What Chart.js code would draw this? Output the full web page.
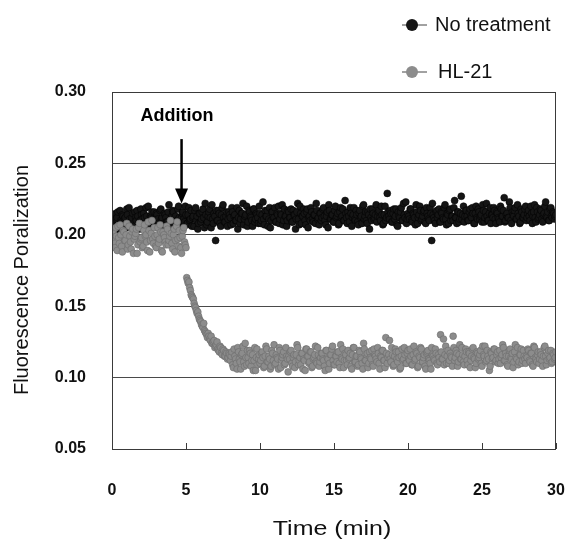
<!DOCTYPE html>
<html>
<head>
<meta charset="utf-8">
<script src="https://cdn.jsdelivr.net/npm/chart.js@4.4.1/dist/chart.umd.min.js"></script>
<style>
  body { margin: 0; background: #fff; }
</style>
</head>
<body>
<canvas id="fpChart" width="566" height="541"></canvas>
<script>
// two interleaved readings every 0.1 min (run A at t, run B at t + 0.05), values in mP
var timeStep = 0.1;
var runBOffset = 0.05;
var additionTime = 4.7;

var noTreatmentA = [
  208,213,205,211,216,204,210,214,207,212,218,206,211,209,215,203,212,217,208,210,
  214,206,212,219,209,204,213,216,210,207,215,211,205,218,212,208,214,209,216,206,
  211,217,207,213,210,220,205,212,216,209,214,208,219,211,206,213,217,210,204,215,
  209,216,212,222,207,213,218,205,211,215,196,210,217,208,214,221,209,213,206,216,
  212,219,208,214,210,204,217,211,215,207,213,220,209,216,212,206,218,211,214,208,
  215,210,223,207,213,217,211,205,216,212,219,209,214,208,215,221,210,213,206,217,
  212,218,209,214,204,216,211,220,208,213,215,207,218,212,210,216,209,214,222,211,
  207,215,212,219,210,213,205,217,211,214,209,220,213,207,216,212,218,210,215,208,
  213,219,206,214,211,217,209,215,212,208,221,213,210,216,204,212,218,211,214,209,
  216,212,220,207,214,210,229,213,217,209,215,211,218,206,213,216,210,222,212,208,
  215,211,218,209,214,207,216,212,220,210,213,217,208,215,211,219,196,214,210,216,
  212,218,209,215,211,221,207,214,217,210,213,219,212,208,216,211,227,214,209,217,
  213,210,218,212,215,208,220,211,216,213,209,217,212,222,210,215,208,214,219,211,
  216,212,209,218,213,226,210,215,212,219,208,214,217,211,221,213,209,216,212,218,
  210,215,213,220,208,216,212,219,211,214,217,209,215,223,212,210,218,213,216,211,
  214
];

var noTreatmentB = [
  210,206,215,212,203,217,209,213,211,205,214,219,208,212,206,216,210,213,204,218,
  211,215,207,213,220,209,212,205,216,210,214,208,217,211,203,215,212,209,221,207,
  213,216,210,205,218,212,209,215,211,220,207,214,210,217,212,206,219,213,208,215,
  211,218,205,214,209,216,212,221,208,213,217,210,215,206,219,212,209,216,211,214,
  207,216,213,210,219,212,208,215,222,211,214,206,217,213,210,218,209,215,212,220,
  208,214,211,217,213,206,219,210,216,212,209,215,220,211,214,207,218,213,210,216,
  212,209,217,214,211,222,207,215,213,218,210,216,205,213,219,211,214,208,217,212,
  215,210,218,213,207,216,221,211,214,209,217,212,215,208,219,213,210,224,212,216,
  209,215,212,219,210,214,207,217,213,220,211,216,208,214,218,210,215,212,221,213,
  217,210,214,208,220,212,216,211,215,209,218,213,207,216,212,219,210,214,223,211,
  213,218,210,215,212,221,208,214,217,211,216,209,219,213,210,215,222,212,208,217,
  214,209,216,212,219,211,215,208,218,213,210,224,212,216,209,215,211,220,213,217,
  210,216,213,219,208,215,212,218,211,214,221,209,216,213,210,219,214,212,217,208,
  215,211,220,213,217,209,214,212,223,210,216,213,219,211,215,208,218,212,214,220,
  212,217,210,215,213,221,209,216,212,218,211,214,220,213,216,210,219,212,215,213
];

var hl21A = [
  197,203,191,199,206,194,200,188,202,196,208,193,199,190,204,197,201,187,205,195,
  198,192,207,200,189,203,196,210,194,199,191,205,197,202,188,200,195,206,193,199,
  201,190,204,196,209,192,198,187,203,195,
  191,168,167,161,157,155,150,147,146,141,139,136,138,132,130,131,127,129,124,126,
  122,125,119,122,117,120,115,118,113,117,
  112,118,107,115,110,121,113,106,117,111,124,109,114,119,108,116,112,105,120,113,
  110,117,114,108,122,111,115,106,119,112,109,116,113,121,107,114,118,110,115,104,
  113,119,108,116,111,123,109,114,117,106,112,120,115,110,118,107,113,116,111,121,
  108,114,117,112,105,119,113,110,116,122,109,115,111,118,107,114,120,112,116,109,
  113,117,106,121,111,115,108,119,114,110,124,112,116,107,118,113,109,120,115,111,
  117,106,114,119,112,128,110,116,113,121,108,115,118,111,114,107,120,113,116,110,
  119,112,115,109,122,113,117,108,114,120,111,116,106,118,113,110,121,115,112,117,
  109,114,130,113,127,116,110,119,112,115,108,121,114,117,111,123,113,116,109,120,
  112,118,107,115,121,113,110,117,114,119,108,116,122,112,115,105,118,113,120,111,
  116,110,119,114,123,112,117,109,115,120,113,107,118,114,121,111,116,110,119,113,
  115,120,112,117,109,122,114,111,118,113,116,108,121,115,112,119,114,110,117,113,
  118
];

var hl21B = [
  201,194,205,189,198,207,192,203,196,200,190,206,195,202,187,199,204,193,208,197,
  191,203,199,195,209,188,201,197,205,192,200,194,207,189,202,198,193,204,196,210,
  194,200,188,206,197,203,191,199,205,193,
  170,166,163,158,156,152,149,145,143,140,137,135,133,131,128,129,126,124,125,121,
  123,120,118,121,116,119,115,117,114,116,
  115,109,120,113,106,118,111,116,122,108,114,119,110,117,112,105,121,114,109,116,
  112,118,107,115,120,111,113,108,117,123,110,114,106,119,112,116,109,121,113,115,
  118,110,114,107,116,121,112,109,117,113,105,120,115,111,118,108,114,122,110,116,
  111,117,113,108,119,114,106,116,120,112,109,115,118,110,123,113,107,117,112,119,
  114,108,116,121,111,115,109,118,113,106,120,112,117,110,114,119,108,116,113,121,
  110,115,119,112,107,117,114,126,111,116,109,120,113,118,106,115,112,121,110,117,
  113,120,109,116,112,118,107,115,121,111,114,108,117,119,112,106,116,113,120,110,
  116,111,118,113,109,122,115,110,117,114,129,112,119,108,116,113,121,111,115,118,
  109,117,112,120,114,107,118,113,116,110,122,115,111,119,113,108,117,114,120,112,
  118,113,110,116,121,112,115,108,119,114,117,111,123,113,109,116,120,112,115,110,
  114,119,111,117,108,121,113,116,110,118,112,115,122,109,117,113,119,111,116,114
];

var seriesNames = ['No treatment', 'HL-21'];
var seriesColors = ['#151515', '#8c8c8c'];
var xTicks = [0, 5, 10, 15, 20, 25, 30];
var yTicks = [0.05, 0.10, 0.15, 0.20, 0.25, 0.30];

function toPoints(runA, runB) {
  var pts = [];
  runA.forEach(function(v, i) {
    pts.push({ x: Math.round(i * timeStep * 100) / 100, y: v / 1000 });
    if (i < runB.length) {
      pts.push({ x: Math.round((i * timeStep + runBOffset) * 100) / 100, y: runB[i] / 1000 });
    }
  });
  return pts;
}

var tickFont = { family: 'Liberation Sans, Arial, sans-serif', size: 16, weight: 'bold' };

// legend, axis titles, "Addition" arrow and the frame
var extras = {
  id: 'extras',
  afterDraw: function(chart) {
    var ctx = chart.ctx;
    var xs = chart.scales.x, ys = chart.scales.y;
    var area = chart.chartArea;
    ctx.save();

    // frame
    ctx.strokeStyle = '#3a3a3a';
    ctx.lineWidth = 1;
    ctx.strokeRect(area.left + 0.5, area.top + 0.5, area.right - area.left - 1, area.bottom - area.top);

    // inward x tick marks
    xTicks.forEach(function(t) {
      var px = Math.round(xs.getPixelForValue(t)) + 0.5;
      ctx.beginPath();
      ctx.moveTo(px, area.bottom);
      ctx.lineTo(px, area.bottom - 6);
      ctx.stroke();
    });

    // addition arrow
    var ax = xs.getPixelForValue(additionTime);
    var yTop = ys.getPixelForValue(0.267);
    var yTip = ys.getPixelForValue(0.222);
    ctx.strokeStyle = '#000';
    ctx.fillStyle = '#000';
    ctx.lineWidth = 2.5;
    ctx.beginPath();
    ctx.moveTo(ax, yTop);
    ctx.lineTo(ax, yTip - 12);
    ctx.stroke();
    ctx.beginPath();
    ctx.moveTo(ax - 6.5, yTip - 15);
    ctx.lineTo(ax + 6.5, yTip - 15);
    ctx.lineTo(ax, yTip);
    ctx.closePath();
    ctx.fill();

    ctx.font = 'bold 18px Liberation Sans, Arial, sans-serif';
    ctx.textAlign = 'center';
    ctx.textBaseline = 'middle';
    ctx.fillText('Addition', 177, 116);

    // axis titles
    ctx.font = '20px Liberation Sans, Arial, sans-serif';
    ctx.fillStyle = '#111';
    ctx.save();
    ctx.translate(332, 529);
    ctx.scale(1.25, 1);
    ctx.fillText('Time (min)', 0, 0);
    ctx.restore();
    ctx.save();
    ctx.translate(22, 280);
    ctx.rotate(-Math.PI / 2);
    ctx.fillText('Fluorescence Poralization', 0, 0);
    ctx.restore();

    // legend
    var legendY = [25, 72];
    var legendTextX = [435, 438];
    ctx.font = '20px Liberation Sans, Arial, sans-serif';
    ctx.textAlign = 'left';
    chart.data.datasets.forEach(function(ds, i) {
      var cy = legendY[i];
      ctx.strokeStyle = '#444';
      ctx.lineWidth = 1;
      ctx.beginPath();
      ctx.moveTo(402, cy);
      ctx.lineTo(427, cy);
      ctx.stroke();
      ctx.beginPath();
      ctx.arc(412, cy, 6, 0, Math.PI * 2);
      ctx.fillStyle = ds.backgroundColor;
      ctx.fill();
      ctx.fillStyle = '#111';
      ctx.fillText(ds.label, legendTextX[i], cy);
    });

    ctx.restore();
  }
};

var ctx = document.getElementById('fpChart').getContext('2d');
var fpChart = new Chart(ctx, {
  type: 'scatter',
  data: {
    datasets: [{
      label: seriesNames[0],
      data: toPoints(noTreatmentA, noTreatmentB),
      backgroundColor: seriesColors[0],
      borderColor: '#000',
      borderWidth: 0.5,
      pointRadius: 3.5,
      order: 1
    }, {
      label: seriesNames[1],
      data: toPoints(hl21A, hl21B),
      backgroundColor: seriesColors[1],
      borderColor: '#6c6c6c',
      borderWidth: 0.6,
      pointRadius: 3.4,
      // drawn above the black series
      order: 0
    }]
  },
  options: {
    responsive: false,
    animation: false,
    devicePixelRatio: 1,
    layout: { padding: { top: 92, right: 10, left: 0, bottom: 0 } },
    plugins: {
      legend: { display: false },
      tooltip: { enabled: false }
    },
    scales: {
      x: {
        type: 'linear',
        min: 0,
        max: 30,
        afterBuildTicks: function(s) { s.ticks = xTicks.map(function(v) { return { value: v }; }); },
        afterFit: function(s) { s.height = 92; s.paddingLeft = 0; s.paddingRight = 0; },
        grid: { display: false },
        border: { display: false },
        ticks: { color: '#111', font: tickFont, padding: 24, maxRotation: 0 }
      },
      y: {
        min: 0.05,
        max: 0.30,
        afterBuildTicks: function(s) { s.ticks = yTicks.map(function(v) { return { value: v }; }); },
        afterFit: function(s) { s.width = 112; s.paddingTop = 0; s.paddingBottom = 0; },
        grid: { color: '#4a4a4a', lineWidth: 1, drawTicks: false },
        border: { display: false },
        ticks: {
          color: '#111',
          font: tickFont,
          padding: 26,
          callback: function(v) { return v.toFixed(2); }
        }
      }
    }
  },
  plugins: [extras]
});
</script>
</body>
</html>
